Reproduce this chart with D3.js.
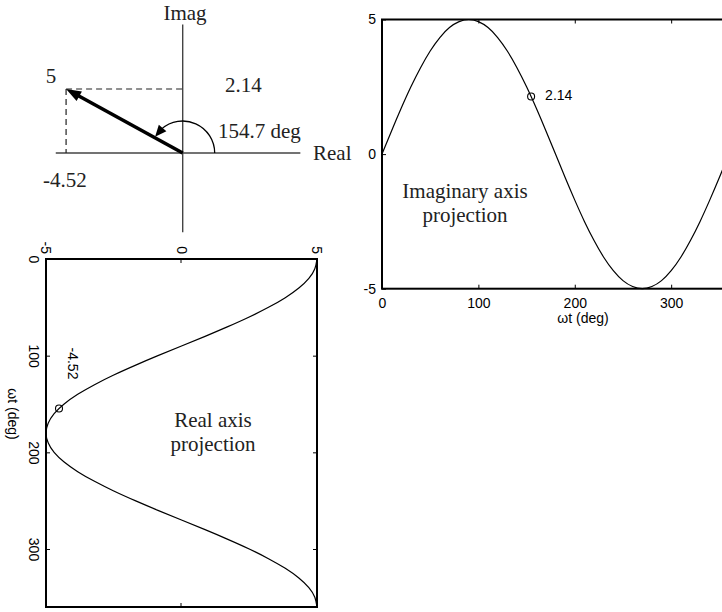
<!DOCTYPE html>
<html>
<head>
<meta charset="utf-8">
<script src="https://cdn.jsdelivr.net/npm/d3@7"></script>
<style>
  html, body { margin: 0; padding: 0; background: #fff; }
  svg { display: block; }
</style>
</head>
<body>
<svg id="chart" width="722" height="612"></svg>
<script>
// ---------------- DATA ----------------
const phasorReal = -4.52;
const phasorImag = 2.14;
const phasorMag = 5;
const phasorAngleDeg = 154.7;
const realAxisExtent = [-4.92, 4.56];
const imagAxisExtent = [-2.65, 4.3];

const angleDeg = [0,10,20,30,40,50,60,70,80,90,100,110,120,130,140,150,160,170,180,
                  190,200,210,220,230,240,250,260,270,280,290,300,310,320,330,340,350,360];
const imagProjection = [0,0.87,1.71,2.5,3.21,3.83,4.33,4.70,4.92,5,4.92,4.70,4.33,3.83,3.21,2.5,1.71,0.87,0,
                        -0.87,-1.71,-2.5,-3.21,-3.83,-4.33,-4.70,-4.92,-5,-4.92,-4.70,-4.33,-3.83,-3.21,-2.5,-1.71,-0.87,0];
const realProjection = [5,4.92,4.70,4.33,3.83,3.21,2.5,1.71,0.87,0,-0.87,-1.71,-2.5,-3.21,-3.83,-4.33,-4.70,-4.92,-5,
                        -4.92,-4.70,-4.33,-3.83,-3.21,-2.5,-1.71,-0.87,0,0.87,1.71,2.5,3.21,3.83,4.33,4.70,4.92,5];

const timeTicks = [0, 100, 200, 300];
const valueTicks = [-5, 0, 5];
const xLabel = "ωt (deg)";
const imagTitle = ["Imaginary axis", "projection"];
const realTitle = ["Real axis", "projection"];

// ---------------- SETUP ----------------
const svg = d3.select("#chart");
const SANS = "'Liberation Sans', Arial, sans-serif";
const SERIF = "'Liberation Serif', 'Times New Roman', serif";
const fmt = d => String(d);

// ---------------- PHASOR DIAGRAM ----------------
const px = d3.scaleLinear().domain([-5, 5]).range([53.7, 311.7]);
const py = d3.scaleLinear().domain([-3, 5]).range([242.7, 3.5]);
const gP = svg.append("g");

// axes
gP.append("line").attr("x1", px(realAxisExtent[0])).attr("x2", px(realAxisExtent[1]))
  .attr("y1", py(0)).attr("y2", py(0)).attr("stroke", "#444").attr("stroke-width", 1.4);
gP.append("line").attr("x1", px(0)).attr("x2", px(0))
  .attr("y1", py(imagAxisExtent[0])).attr("y2", py(imagAxisExtent[1])).attr("stroke", "#444").attr("stroke-width", 1.4);

// dashed projections
gP.append("line").attr("x1", px(phasorReal)).attr("x2", px(0))
  .attr("y1", py(phasorImag)).attr("y2", py(phasorImag))
  .attr("stroke", "#222").attr("stroke-width", 1.2).attr("stroke-dasharray", "6,4");
gP.append("line").attr("x1", px(phasorReal)).attr("x2", px(phasorReal))
  .attr("y1", py(phasorImag)).attr("y2", py(0))
  .attr("stroke", "#222").attr("stroke-width", 1.2).attr("stroke-dasharray", "6,4");

function arrowHead(g, tipX, tipY, dirAngle, len, halfW) {
  const bx = tipX - len * Math.cos(dirAngle), by = tipY - len * Math.sin(dirAngle);
  const nx = -Math.sin(dirAngle), ny = Math.cos(dirAngle);
  g.append("path")
    .attr("d", `M${tipX},${tipY}L${bx + nx * halfW},${by + ny * halfW}L${bx - nx * halfW},${by - ny * halfW}Z`)
    .attr("fill", "#000");
}

// phasor arrow
const ox = px(0), oy = py(0);
const tx = px(phasorReal), ty = py(phasorImag);
const dir = Math.atan2(ty - oy, tx - ox);
const headLen = 15;
gP.append("line").attr("x1", ox).attr("y1", oy)
  .attr("x2", tx - (headLen - 2) * Math.cos(dir)).attr("y2", ty - (headLen - 2) * Math.sin(dir))
  .attr("stroke", "#000").attr("stroke-width", 3.6);
arrowHead(gP, tx, ty, dir, headLen, 5.5);

// angle arc
const arcR = 32;
const screenAngle = Math.atan2(oy - ty, tx - ox);
const arcEnd = screenAngle - 0.03;
const headArc = 0.36;
const arcPath = d3.path();
arcPath.arc(ox, oy, arcR, 0, -(arcEnd - headArc + 0.05), true);
gP.append("path").attr("d", arcPath.toString()).attr("fill", "none").attr("stroke", "#000").attr("stroke-width", 1.3);
{
  const tipA = -arcEnd;
  const tipX = ox + arcR * Math.cos(tipA), tipY = oy + arcR * Math.sin(tipA);
  const baseA = -(arcEnd - headArc);
  const bX = ox + arcR * Math.cos(baseA), bY = oy + arcR * Math.sin(baseA);
  const d = Math.atan2(tipY - bY, tipX - bX);
  const len = Math.hypot(tipX - bX, tipY - bY);
  arrowHead(gP, tipX, tipY, d, len, 5);
}

// labels
const serifText = (x, y, t, anchor) => gP.append("text").attr("x", x).attr("y", y)
  .attr("text-anchor", anchor || "start").attr("font-family", SERIF).attr("font-size", 21).attr("fill", "#222").text(t);
serifText(185, 20, "Imag", "middle");
serifText(51, 83, String(phasorMag), "middle");
serifText(225, 92, phasorImag.toFixed(2));
serifText(218, 138, phasorAngleDeg.toFixed(1) + " deg");
serifText(313, 160, "Real");
serifText(43, 187, phasorReal.toFixed(2));

// ---------------- IMAGINARY PROJECTION (right) ----------------
const ix = d3.scaleLinear().domain([0, 360]).range([382, 729]);
const iy = d3.scaleLinear().domain([-5, 5]).range([288.7, 19.5]);
const gI = svg.append("g");

function styleAxis(sel) {
  sel.select(".domain").remove();
  sel.selectAll(".tick line").attr("stroke", "#000").attr("stroke-width", 1);
  sel.selectAll(".tick text").attr("font-family", SANS).attr("font-size", 14).attr("fill", "#000");
}

gI.append("g").attr("transform", `translate(0,${iy(-5)})`)
  .call(d3.axisBottom(ix).tickValues(timeTicks).tickSize(-4).tickPadding(9).tickFormat(fmt))
  .call(styleAxis);
gI.append("g").attr("transform", `translate(0,${iy(5)})`)
  .call(d3.axisTop(ix).tickValues(timeTicks).tickSize(-4).tickFormat(""))
  .call(styleAxis);
gI.append("g").attr("transform", `translate(${ix(0)},0)`)
  .call(d3.axisLeft(iy).tickValues(valueTicks).tickSize(-4).tickPadding(6).tickFormat(fmt))
  .call(styleAxis);
gI.append("g").attr("transform", `translate(${ix(360)},0)`)
  .call(d3.axisRight(iy).tickValues(valueTicks).tickSize(-4).tickFormat(""))
  .call(styleAxis);

gI.append("rect").attr("x", ix(0)).attr("y", iy(5))
  .attr("width", ix(360) - ix(0)).attr("height", iy(-5) - iy(5))
  .attr("fill", "none").attr("stroke", "#000").attr("stroke-width", 2);

const lineI = d3.line().x((d, i) => ix(angleDeg[i])).y(d => iy(d)).curve(d3.curveNatural);
gI.append("path").datum(imagProjection).attr("d", lineI)
  .attr("fill", "none").attr("stroke", "#000").attr("stroke-width", 1.2);

gI.append("circle").attr("cx", ix(phasorAngleDeg)).attr("cy", iy(phasorImag)).attr("r", 3.5)
  .attr("fill", "none").attr("stroke", "#000").attr("stroke-width", 1.1);
gI.append("text").attr("x", ix(phasorAngleDeg) + 14).attr("y", iy(phasorImag) + 4)
  .attr("font-family", SANS).attr("font-size", 14).text(phasorImag.toFixed(2));

gI.append("text").attr("x", 583).attr("y", 323).attr("text-anchor", "middle")
  .attr("font-family", SANS).attr("font-size", 14).text(xLabel);

imagTitle.forEach((t, k) => gI.append("text").attr("x", 465).attr("y", 198 + 24 * k)
  .attr("text-anchor", "middle").attr("font-family", SERIF).attr("font-size", 21).attr("fill", "#222").text(t));

// ---------------- REAL PROJECTION (bottom, rotated 90°) ----------------
const rx = d3.scaleLinear().domain([0, 360]).range([0, 348]);
const ry = d3.scaleLinear().domain([-5, 5]).range([271, 0]);
const gR = svg.append("g").attr("transform", "translate(317,259) rotate(90)");

gR.append("g").attr("transform", `translate(0,${ry(-5)})`)
  .call(d3.axisBottom(rx).tickValues(timeTicks).tickSize(-4).tickPadding(7).tickFormat(fmt))
  .call(styleAxis);
gR.append("g").attr("transform", `translate(0,${ry(5)})`)
  .call(d3.axisTop(rx).tickValues(timeTicks).tickSize(-4).tickFormat(""))
  .call(styleAxis);
gR.append("g").attr("transform", `translate(${rx(0)},0)`)
  .call(d3.axisLeft(ry).tickValues(valueTicks).tickSize(-4).tickPadding(5).tickFormat(fmt))
  .call(styleAxis);
gR.append("g").attr("transform", `translate(${rx(360)},0)`)
  .call(d3.axisRight(ry).tickValues(valueTicks).tickSize(-4).tickFormat(""))
  .call(styleAxis);

gR.append("rect").attr("x", rx(0)).attr("y", ry(5))
  .attr("width", rx(360) - rx(0)).attr("height", ry(-5) - ry(5))
  .attr("fill", "none").attr("stroke", "#000").attr("stroke-width", 2);

const lineR = d3.line().x((d, i) => rx(angleDeg[i])).y(d => ry(d)).curve(d3.curveNatural);
gR.append("path").datum(realProjection).attr("d", lineR)
  .attr("fill", "none").attr("stroke", "#000").attr("stroke-width", 1.2);

gR.append("circle").attr("cx", rx(phasorAngleDeg)).attr("cy", ry(phasorReal)).attr("r", 3.5)
  .attr("fill", "none").attr("stroke", "#000").attr("stroke-width", 1.1);
gR.append("text").attr("x", rx(phasorAngleDeg) - 61).attr("y", ry(phasorReal) - 9)
  .attr("font-family", SANS).attr("font-size", 14).text(phasorReal.toFixed(2));

gR.append("text").attr("x", 155).attr("y", 309).attr("text-anchor", "middle")
  .attr("font-family", SANS).attr("font-size", 14).text(xLabel);

realTitle.forEach((t, k) => svg.append("text").attr("x", 213).attr("y", 427 + 24 * k)
  .attr("text-anchor", "middle").attr("font-family", SERIF).attr("font-size", 21).attr("fill", "#222").text(t));
</script>
</body>
</html>
